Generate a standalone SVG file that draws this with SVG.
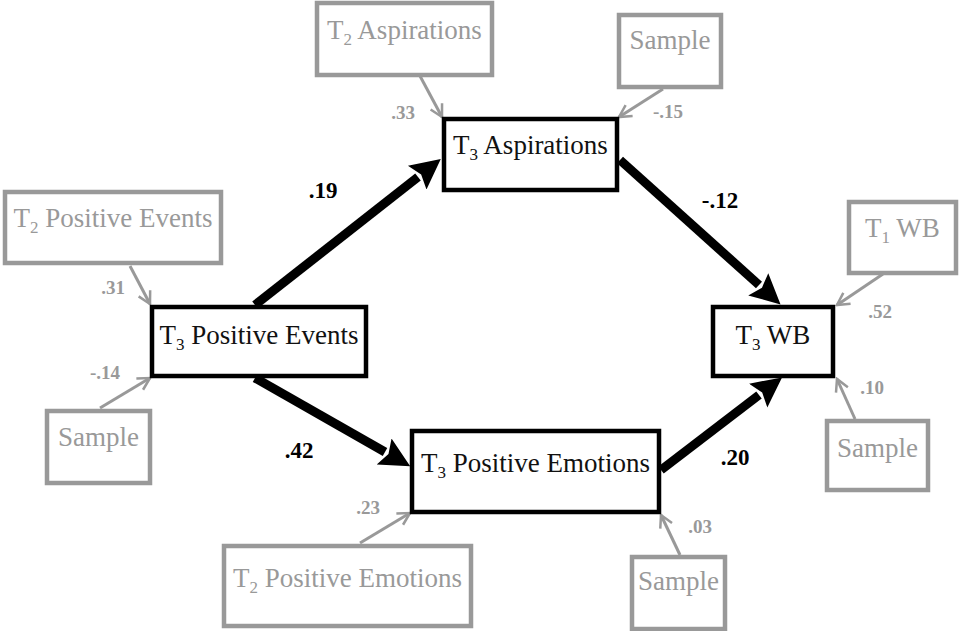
<svg xmlns="http://www.w3.org/2000/svg" width="960" height="631" viewBox="0 0 960 631" font-family="Liberation Serif, Times New Roman, Times, DejaVu Serif, serif">
<style>
  .main rect { fill: #fff; stroke: #000; stroke-width: 4.5; }
  .ctrl rect { fill: #fff; stroke: #999; stroke-width: 4.5; }
  .main text { font-size: 27px; fill: #111; text-anchor: middle; }
  .ctrl text { font-size: 27px; fill: #999; text-anchor: middle; }
  .sub { font-size: 17px; }
  .thick { stroke: #000; stroke-width: 9; fill: none; marker-end: url(#bigArrow); }
  .thin { stroke: #999; stroke-width: 3; fill: none; marker-end: url(#smallArrow); }
  .lbl { font-weight: bold; text-anchor: middle; }
  .lbl.b { font-size: 23px; fill: #000; }
  .lbl.g { font-size: 19px; fill: #999; }
</style>
<defs>
  <marker id="bigArrow" markerUnits="userSpaceOnUse" markerWidth="32" markerHeight="34" viewBox="0 0 32 34" refX="1" refY="17" orient="auto">
    <path d="M0,2 L30,17 L0,32 L5,17 Z" fill="#000"/>
  </marker>
  <marker id="smallArrow" markerUnits="userSpaceOnUse" markerWidth="16" markerHeight="16" viewBox="0 0 16 16" refX="14" refY="8" orient="auto">
    <path d="M2,1.5 L14,8 L2,14.5" fill="none" stroke="#999" stroke-width="2.5"/>
  </marker>
</defs>

<g id="connectors">
  <line class="thick" x1="255" y1="305" x2="418" y2="177"/>
  <line class="thick" x1="255" y1="378" x2="385" y2="452"/>
  <line class="thick" x1="620" y1="160" x2="759" y2="285"/>
  <line class="thick" x1="661" y1="470" x2="759" y2="395"/>
  <line class="thin" x1="420" y1="76" x2="442" y2="117"/>
  <line class="thin" x1="663" y1="89" x2="619" y2="117"/>
  <line class="thin" x1="130" y1="266" x2="150" y2="304"/>
  <line class="thin" x1="100" y1="408" x2="150" y2="378"/>
  <line class="thin" x1="360" y1="543" x2="410" y2="513"/>
  <line class="thin" x1="680" y1="555" x2="661" y2="515"/>
  <line class="thin" x1="883" y1="274" x2="837" y2="305"/>
  <line class="thin" x1="855" y1="419" x2="837" y2="379"/>
</g>

<g id="labels">
  <text class="lbl b" x="323" y="198">.19</text>
  <text class="lbl b" x="299" y="458">.42</text>
  <text class="lbl b" x="720" y="208">-.12</text>
  <text class="lbl b" x="735" y="465">.20</text>
  <text class="lbl g" x="403" y="119">.33</text>
  <text class="lbl g" x="668" y="118">-.15</text>
  <text class="lbl g" x="113" y="294">.31</text>
  <text class="lbl g" x="105" y="379">-.14</text>
  <text class="lbl g" x="368" y="514">.23</text>
  <text class="lbl g" x="700" y="533">.03</text>
  <text class="lbl g" x="880" y="318">.52</text>
  <text class="lbl g" x="872" y="394">.10</text>
</g>

<g id="t2-aspirations" class="ctrl">
  <rect x="317" y="3" width="175" height="72"/>
  <text x="404.5" y="39">T<tspan class="sub" dy="6">2</tspan><tspan dy="-6"> Aspirations</tspan></text>
</g>
<g id="sample-top" class="ctrl">
  <rect x="619" y="15" width="102" height="72"/>
  <text x="670" y="49">Sample</text>
</g>
<g id="t3-aspirations" class="main">
  <rect x="444" y="119" width="173" height="71"/>
  <text x="530.5" y="154">T<tspan class="sub" dy="6">3</tspan><tspan dy="-6"> Aspirations</tspan></text>
</g>
<g id="t2-positive-events" class="ctrl">
  <rect x="5" y="192" width="216" height="71"/>
  <text x="113" y="227">T<tspan class="sub" dy="6">2</tspan><tspan dy="-6"> Positive Events</tspan></text>
</g>
<g id="t3-positive-events" class="main">
  <rect x="152" y="307" width="214" height="69"/>
  <text x="259" y="344">T<tspan class="sub" dy="6">3</tspan><tspan dy="-6"> Positive Events</tspan></text>
</g>
<g id="sample-left" class="ctrl">
  <rect x="47" y="411" width="103" height="72"/>
  <text x="98.5" y="446">Sample</text>
</g>
<g id="t3-positive-emotions" class="main">
  <rect x="412" y="431" width="247" height="81"/>
  <text x="535.5" y="472">T<tspan class="sub" dy="6">3</tspan><tspan dy="-6"> Positive Emotions</tspan></text>
</g>
<g id="t2-positive-emotions" class="ctrl">
  <rect x="224" y="546" width="247" height="80"/>
  <text x="347.5" y="587">T<tspan class="sub" dy="6">2</tspan><tspan dy="-6"> Positive Emotions</tspan></text>
</g>
<g id="sample-bottom" class="ctrl">
  <rect x="632" y="557" width="93" height="72"/>
  <text x="678.5" y="590">Sample</text>
</g>
<g id="t3-wb" class="main">
  <rect x="713" y="307" width="120" height="69"/>
  <text x="773" y="344">T<tspan class="sub" dy="6">3</tspan><tspan dy="-6"> WB</tspan></text>
</g>
<g id="t1-wb" class="ctrl">
  <rect x="849" y="202" width="107" height="71"/>
  <text x="902.5" y="237">T<tspan class="sub" dy="6">1</tspan><tspan dy="-6"> WB</tspan></text>
</g>
<g id="sample-right" class="ctrl">
  <rect x="827" y="421" width="101" height="69"/>
  <text x="877.5" y="457">Sample</text>
</g>
</svg>
